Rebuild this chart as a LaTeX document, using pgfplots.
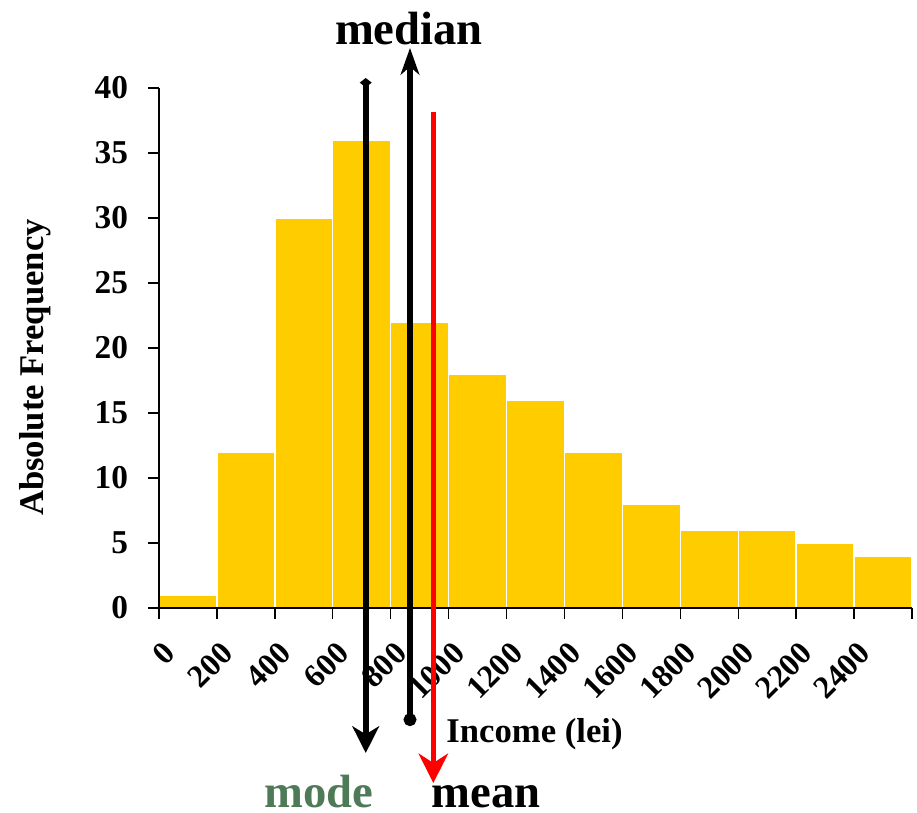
\documentclass[border=0pt]{standalone}
\usepackage{pgfplots}
\pgfplotsset{compat=1.18}
\usepackage{fontspec}
\setmainfont{Liberation Serif}
\usetikzlibrary{arrows.meta}
\definecolor{gold}{HTML}{FFCC00}
\definecolor{modegreen}{HTML}{4F7A57}
\begin{document}
\begin{tikzpicture}
\useasboundingbox (0,0) rectangle (687.75pt,609.75pt);
\begin{axis}[
  at={(119.25pt,153.75pt)}, anchor=south west,
  scale only axis, width=564.75pt, height=390pt,
  xmin=0, xmax=2600, ymin=0, ymax=40,
  axis lines*=left,
  axis line style={line width=1pt},
  axis on top,
  clip=false,
  xtick={0,200,...,2600},
  xticklabels={0,200,400,600,800,1000,1200,1400,1600,1800,2000,2200,2400,{}},
  ytick={0,5,...,40},
  tick align=outside,
  major tick length=8pt,
  tick style={black, line width=1pt},
  ticklabel style={font=\bfseries\fontsize{24}{24}\selectfont},
  yticklabel style={font=\bfseries\fontsize{25}{25}\selectfont},
  /pgf/number format/assume math mode=true,
  xticklabel style={xshift=8pt,yshift=-22pt,rotate=45,anchor=east,inner sep=0pt},
  yticklabel style={anchor=east,inner sep=0pt,xshift=-15pt},
]
\addplot[ybar interval, fill=gold, draw=white, line width=1pt] coordinates {
(0,1) (200,12) (400,30) (600,36) (800,22) (1000,18) (1200,16) (1400,12)
(1600,8) (1800,6) (2000,6) (2200,5) (2400,4) (2600,4)};
\end{axis}
% annotations
\draw[black, line width=4.2pt, {Diamond[length=7pt,width=9pt]}-{Stealth[length=20pt,width=20pt,inset=6pt]}]
  (274.3pt,551.25pt) -- (274.3pt,45pt);
\draw[black, line width=4.2pt, {Circle[length=9.5pt]}-{Stealth[length=20pt,width=14pt,inset=6pt]}]
  (307.5pt,65.25pt) -- (307.5pt,573.75pt);
\draw[red, line width=4.2pt, -{Stealth[length=22pt,width=22pt,inset=7pt]}]
  (325pt,525.75pt) -- (325pt,22.5pt);
\node[anchor=base, font=\bfseries\fontsize{35}{35}\selectfont] at (306.75pt,576pt) {median};
\node[anchor=base, font=\bfseries\fontsize{35}{35}\selectfont, text=modegreen] at (239.25pt,4pt) {mode};
\node[anchor=base, font=\bfseries\fontsize{35}{35}\selectfont] at (364.5pt,4pt) {mean};
\node[anchor=base, font=\bfseries\fontsize{26}{26}\selectfont] at (400.9pt,52.5pt) {Income (lei)};
\node[anchor=base, rotate=90, font=\bfseries\fontsize{26}{26}\selectfont] at (32.25pt,334.1pt) {Absolute Frequency};
\end{tikzpicture}
\end{document}
